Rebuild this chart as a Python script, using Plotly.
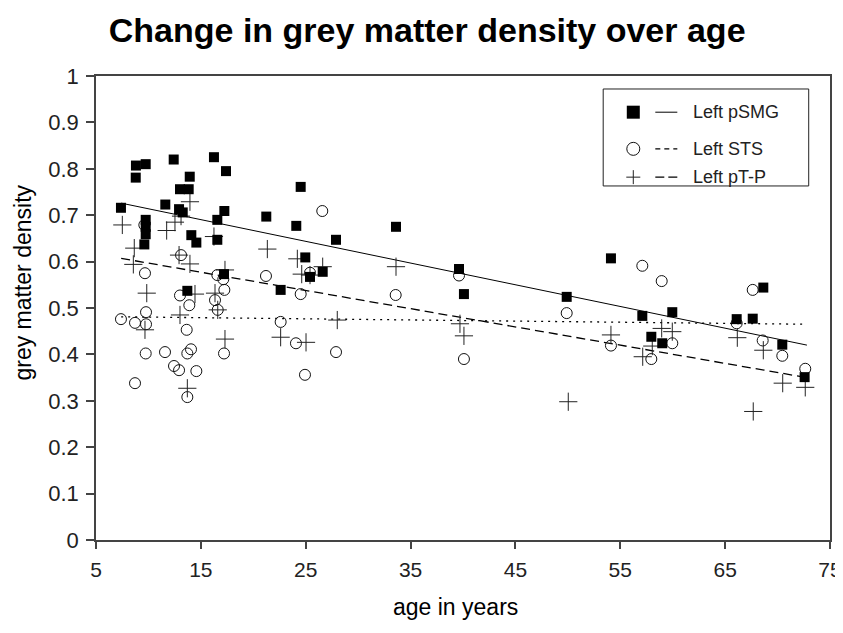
import plotly.graph_objects as go

# ---------------- data ----------------
psmg_age = [8.81, 9.74, 8.79, 12.41, 16.25, 17.40, 13.94, 13.01, 13.84, 7.38,
            11.61, 12.92, 13.27, 17.24, 16.57, 9.74, 9.74, 9.74, 9.61, 14.09,
            14.57, 16.57, 17.21, 13.71, 24.52, 21.24, 24.10, 33.61, 27.89, 24.96,
            26.62, 25.41, 22.61, 39.62, 40.09, 54.11, 49.89, 68.64, 57.10, 59.96,
            66.10, 67.63, 57.96, 59.00, 70.45, 72.58]
psmg_density = [0.807, 0.810, 0.781, 0.820, 0.825, 0.795, 0.783, 0.756, 0.756, 0.716,
                0.723, 0.713, 0.706, 0.709, 0.690, 0.690, 0.675, 0.659, 0.637, 0.657,
                0.641, 0.647, 0.573, 0.537, 0.761, 0.697, 0.677, 0.675, 0.647, 0.609,
                0.578, 0.567, 0.539, 0.584, 0.530, 0.607, 0.524, 0.544, 0.483, 0.491,
                0.476, 0.477, 0.438, 0.424, 0.421, 0.351]

sts_age = [9.67, 13.11, 16.57, 17.14, 17.24, 9.61, 13.01, 13.90, 16.35, 16.61,
           9.77, 7.38, 8.72, 9.77, 13.65, 9.74, 11.58, 14.06, 13.71, 17.21,
           12.44, 12.92, 14.57, 8.72, 13.71, 26.58, 21.21, 25.41, 24.52, 33.58,
           22.61, 24.07, 27.89, 24.93, 39.62, 49.89, 40.09, 54.11, 57.10, 58.95,
           67.63, 66.10, 59.96, 68.58, 57.96, 70.45, 72.64]
sts_density = [0.575, 0.614, 0.571, 0.562, 0.539, 0.679, 0.527, 0.506, 0.517, 0.496,
               0.491, 0.476, 0.468, 0.465, 0.453, 0.402, 0.405, 0.411, 0.402, 0.402,
               0.375, 0.366, 0.364, 0.338, 0.308, 0.709, 0.569, 0.576, 0.530, 0.528,
               0.470, 0.424, 0.405, 0.356, 0.570, 0.489, 0.390, 0.419, 0.591, 0.558,
               0.539, 0.467, 0.424, 0.430, 0.390, 0.397, 0.369]

ptp_age = [13.96, 7.51, 11.74, 12.53, 13.11, 8.65, 16.25, 12.92, 8.56, 13.96,
           17.30, 9.84, 14.44, 16.35, 16.61, 13.01, 9.67, 17.30, 13.71, 21.34,
           24.20, 26.62, 24.62, 25.41, 33.61, 28.01, 22.61, 25.03, 39.71, 40.09,
           54.11, 50.04, 58.95, 59.96, 66.16, 58.05, 57.14, 68.64, 70.49, 72.64,
           67.68]
ptp_density = [0.729, 0.679, 0.667, 0.685, 0.698, 0.629, 0.654, 0.614, 0.594, 0.595,
               0.582, 0.532, 0.530, 0.532, 0.496, 0.485, 0.453, 0.433, 0.327, 0.627,
               0.606, 0.589, 0.573, 0.571, 0.589, 0.474, 0.437, 0.426, 0.466, 0.440,
               0.442, 0.298, 0.456, 0.449, 0.436, 0.418, 0.395, 0.409, 0.338, 0.329,
               0.277]

trend_age = [7.4, 72.8]
psmg_trend = [0.726, 0.420]
sts_trend = [0.481, 0.465]
ptp_trend = [0.607, 0.350]

series_names = ["Left pSMG", "Left STS", "Left pT-P"]
x_ticks = [5, 15, 25, 35, 45, 55, 65, 75]
y_ticks = [0, 0.1, 0.2, 0.3, 0.4, 0.5, 0.6, 0.7, 0.8, 0.9, 1]
y_tick_text = ["0", "0.1", "0.2", "0.3", "0.4", "0.5", "0.6", "0.7", "0.8", "0.9", "1"]

# ---------------- styles ----------------
FONT = "Liberation Sans, Arial, sans-serif"
INK = "#111111"
sq_marker = dict(symbol="square", size=10, color="black", line=dict(width=0))
ci_marker = dict(symbol="circle-open", size=11, color=INK, line=dict(width=1, color=INK))
pl_marker = dict(symbol="cross-thin-open", size=13, color="#222222", line=dict(width=1, color="#222222"))
solid_line = dict(color="black", width=1)
dot_line = dict(color="black", width=1.3, dash="2px,5px")
dash_line = dict(color="black", width=1.3, dash="9px,5px")

fig = go.Figure()

# trend lines
fig.add_trace(go.Scatter(x=trend_age, y=psmg_trend, mode="lines", line=solid_line, showlegend=False))
fig.add_trace(go.Scatter(x=trend_age, y=sts_trend, mode="lines", line=dot_line, showlegend=False))
fig.add_trace(go.Scatter(x=trend_age, y=ptp_trend, mode="lines", line=dash_line, showlegend=False))

# scatter series
fig.add_trace(go.Scatter(x=sts_age, y=sts_density, mode="markers", marker=ci_marker,
                         name=series_names[1], showlegend=False))
fig.add_trace(go.Scatter(x=ptp_age, y=ptp_density, mode="markers", marker=pl_marker,
                         name=series_names[2], showlegend=False))
fig.add_trace(go.Scatter(x=psmg_age, y=psmg_density, mode="markers", marker=sq_marker,
                         name=series_names[0], showlegend=False))

# ---------------- custom legend (Excel-style: marker, line sample, label) ----------------
leg_x0, leg_x1, leg_y0, leg_y1 = 0.691, 0.971, 0.763, 0.972
row_y = [0.922, 0.843, 0.782]
mk_x = 0.732
ln_x0, ln_x1 = 0.762, 0.792
txt_x = 0.810

fig.add_shape(type="rect", xref="paper", yref="paper", x0=leg_x0, x1=leg_x1, y0=leg_y0, y1=leg_y1,
              line=dict(color="#222222", width=1), fillcolor="rgba(0,0,0,0)", layer="above")
leg_markers = [dict(symbol="square", size=13, color="black", line=dict(width=0)),
               dict(symbol="circle-open", size=13, color=INK, line=dict(width=1, color=INK)),
               dict(symbol="cross-thin-open", size=10, color="#222222", line=dict(width=1, color="#222222"))]
leg_lines = [solid_line, dict(color="black", width=1.3, dash="5px,4px"), dict(color="black", width=1.3, dash="9px,4px")]
for i in range(3):
    fig.add_trace(go.Scatter(x=[mk_x], y=[row_y[i]], xaxis="x2", yaxis="y2", mode="markers",
                             marker=leg_markers[i], showlegend=False, hoverinfo="skip"))
    fig.add_shape(type="line", xref="paper", yref="paper", x0=ln_x0, x1=ln_x1, y0=row_y[i], y1=row_y[i],
                  line=leg_lines[i], layer="above")
    fig.add_annotation(xref="paper", yref="paper", x=txt_x, y=row_y[i], text=series_names[i],
                       showarrow=False, xanchor="left", yanchor="middle",
                       font=dict(family=FONT, size=18, color="#222222"))

# axis titles
fig.add_annotation(xref="paper", yref="paper", x=0.49, y=-0.145, text="age in years", showarrow=False,
                   xanchor="center", yanchor="middle", font=dict(family=FONT, size=23, color="black"))
fig.add_annotation(xref="paper", yref="paper", x=-0.1, y=0.554, text="grey matter density", showarrow=False,
                   textangle=-90, xanchor="center", yanchor="middle", font=dict(family=FONT, size=23, color="black"))

# page body adds an 8px offset; figure is sized so that it fits the 843x633 window
fig.update_layout(
    width=835, height=612,
    margin=dict(l=88, r=13, t=68, b=80),
    paper_bgcolor="white", plot_bgcolor="white",
    title=dict(text="<b>Change in grey matter density over age</b>", x=0.502, xanchor="center",
               y=0.9637, yanchor="middle", xref="container", yref="container",
               font=dict(family=FONT, size=34, color="black")),
    xaxis=dict(range=[5, 75], tickvals=x_ticks, showgrid=False, zeroline=False, automargin=False,
               showline=True, linecolor="#444444", linewidth=1.5, mirror=True,
               ticks="outside", ticklen=7, tickcolor="#444444", tickwidth=1.5,
               ticklabeloverflow="allow", ticklabelstandoff=3,
               tickfont=dict(family=FONT, size=21, color="#222222")),
    yaxis=dict(range=[0, 1], tickvals=y_ticks, ticktext=y_tick_text, showgrid=False, zeroline=False,
               automargin=False,
               showline=True, linecolor="#444444", linewidth=1.5, mirror=True,
               ticks="outside", ticklen=8, tickcolor="#444444", tickwidth=1.5,
               ticklabelstandoff=3,
               tickfont=dict(family=FONT, size=22, color="#222222")),
    xaxis2=dict(range=[0, 1], overlaying="x", visible=False),
    yaxis2=dict(range=[0, 1], overlaying="y", visible=False),
    showlegend=False,
)

fig.write_html("out.html")
